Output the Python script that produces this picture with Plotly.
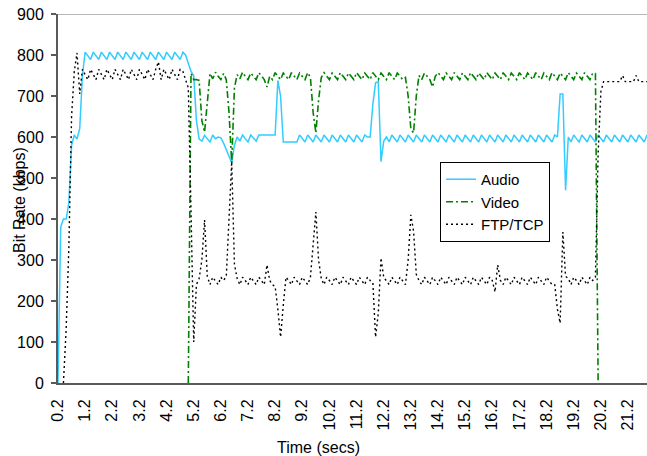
import plotly.graph_objects as go

# Category axis: samples every 0.1 s starting at 0.2 s
time = [round(0.2 + 0.1 * k, 1) for k in range(218)]

tick_vals = [0.2 + k for k in range(22)]
tick_text = ["0.2", "1.2", "2.2", "3.2", "4.2", "5.2", "6.2", "7.2", "8.2", "9.2", "10.2",
             "11.2", "12.2", "13.2", "14.2", "15.2", "16.2", "17.2", "18.2", "19.2", "20.2", "21.2"]

audio = [
    0, 380, 400, 400, 440, 580, 605, 595, 620, 750,
    807, 797, 789, 807, 797, 789, 807, 797, 789, 807,
    797, 789, 807, 797, 789, 807, 797, 789, 807, 797,
    789, 807, 797, 789, 807, 797, 789, 807, 797, 789,
    807, 797, 789, 807, 797, 789, 807, 800, 780, 760,
    750, 640, 595, 590, 604, 596, 588, 605, 596, 600,
    598, 585, 570, 552, 537, 580, 600, 590, 605, 596,
    588, 605, 596, 590, 605, 605, 605, 605, 605, 605,
    605, 738, 700, 588, 588, 588, 588, 588, 588, 605,
    596, 588, 605, 596, 588, 605, 596, 588, 605, 596,
    588, 605, 596, 588, 605, 596, 588, 605, 596, 588,
    605, 596, 588, 605, 600, 600, 680, 732, 735, 540,
    590, 600, 588, 605, 596, 588, 605, 596, 588, 605,
    596, 588, 605, 596, 588, 605, 596, 588, 605, 596,
    588, 605, 596, 588, 605, 596, 588, 605, 596, 588,
    605, 596, 588, 605, 596, 588, 605, 596, 588, 605,
    596, 588, 605, 596, 588, 605, 596, 588, 605, 596,
    588, 605, 596, 588, 605, 596, 588, 605, 596, 588,
    605, 596, 588, 605, 600, 705, 705, 470, 600, 588,
    605, 596, 588, 605, 596, 588, 605, 596, 588, 605,
    596, 588, 605, 596, 588, 605, 596, 588, 605, 596,
    588, 605, 596, 588, 605, 596, 588, 605,
]

video = [None] * 48 + [
    0, 755,
    740, 740, 738, 640, 612, 690, 755, 742, 758, 748,
    740, 755, 740, 660, 537, 720, 752, 742, 758, 748,
    740, 756, 748, 740, 757, 748, 740, 722, 748, 740,
    757, 748, 740, 756, 748, 740, 757, 748, 740, 756,
    748, 740, 757, 745, 660, 610, 690, 745, 757, 748,
    740, 756, 748, 740, 757, 748, 740, 756, 748, 740,
    757, 748, 740, 756, 748, 740, 757, 748, 740, 756,
    748, 740, 757, 748, 740, 756, 748, 740, 745, 700,
    620, 610, 700, 750, 740, 756, 748, 740, 722, 748,
    757, 748, 740, 756, 748, 740, 757, 748, 740, 756,
    748, 740, 757, 748, 740, 756, 748, 740, 757, 748,
    740, 756, 748, 740, 757, 748, 740, 756, 748, 740,
    757, 748, 740, 756, 748, 740, 757, 748, 740, 756,
    748, 740, 757, 748, 740, 756, 748, 740, 757, 748,
    740, 756, 748, 740, 757, 748, 740, 756, 755, 0,
] + [None] * 18

ftp = [
    None, None, 0, 130, 330, 650, 760, 805, 705, 765,
    752, 740, 765, 752, 740, 765, 752, 740, 765, 752,
    740, 765, 752, 740, 765, 752, 740, 765, 752, 740,
    765, 752, 740, 765, 752, 740, 765, 783, 740, 765,
    752, 740, 765, 752, 740, 765, 760, 740, 720, 420,
    100, 240, 255, 300, 398, 260, 240, 258, 250, 240,
    258, 250, 260, 400, 540, 290, 255, 240, 258, 250,
    240, 258, 250, 240, 258, 250, 240, 288, 250, 240,
    235, 180, 112, 190, 258, 250, 240, 258, 250, 240,
    258, 250, 240, 258, 340, 417, 300, 255, 240, 258,
    250, 240, 258, 250, 240, 258, 250, 240, 258, 250,
    240, 258, 250, 240, 258, 250, 245, 112, 170, 305,
    258, 250, 240, 258, 250, 240, 258, 250, 240, 300,
    410, 370, 265, 250, 240, 258, 250, 240, 258, 250,
    240, 258, 250, 240, 258, 250, 240, 258, 250, 240,
    258, 250, 240, 258, 250, 240, 258, 250, 240, 258,
    250, 222, 288, 250, 240, 258, 250, 240, 258, 250,
    240, 258, 250, 240, 258, 250, 240, 258, 250, 240,
    258, 250, 240, 240, 180, 146, 368, 260, 255, 240,
    258, 250, 240, 258, 250, 240, 258, 250, 258, 560,
    710, 735, 735, 735, 735, 735, 735, 735, 750, 735,
    735, 735, 735, 750, 735, 735, 735, 735,
]

FONT = "Liberation Sans, Arial, sans-serif"

fig = go.Figure()
fig.add_trace(go.Scatter(x=time[:len(audio)], y=audio, name="Audio", mode="lines",
                         line=dict(color="#33CCFF", width=1.5), connectgaps=False))
fig.add_trace(go.Scatter(x=time[:len(video)], y=video, name="Video", mode="lines",
                         line=dict(color="#008000", width=1.6, dash="7px,3px,2px,3px"),
                         connectgaps=False))
fig.add_trace(go.Scatter(x=time[:len(ftp)], y=ftp, name="FTP/TCP", mode="lines",
                         line=dict(color="#000000", width=1.4, dash="2px,3px"),
                         connectgaps=False))

# top border gridline at 900
fig.add_shape(type="line", xref="paper", yref="y", x0=0, x1=1, y0=900, y1=900,
              line=dict(color="#A0A0A0", width=1.5), layer="below")

fig.update_layout(
    width=647, height=456,
    margin=dict(l=58, r=0, t=14, b=73, pad=0),
    paper_bgcolor="white", plot_bgcolor="white",
    font=dict(family=FONT, size=16, color="#000000"),
    showlegend=True,
    legend=dict(x=0.6486, y=0.599, xanchor="left", yanchor="top",
                bordercolor="#000000", borderwidth=1, bgcolor="white",
                font=dict(family=FONT, size=15), tracegroupgap=0, itemwidth=30),
    xaxis=dict(range=[0.2, 21.9], tickvals=tick_vals, ticktext=tick_text, tickangle=-90,
               showgrid=False, zeroline=False, showline=True, linecolor="#5A5A5A",
               linewidth=2, ticks="", ticklabelstandoff=8,
               tickfont=dict(family=FONT, size=16)),
    yaxis=dict(range=[0, 900], tickvals=[0, 100, 200, 300, 400, 500, 600, 700, 800, 900],
               showgrid=False, zeroline=False, showline=True, linecolor="#5A5A5A",
               linewidth=2, ticks="outside", ticklen=5, tickwidth=1.5, tickcolor="#5A5A5A",
               ticklabelstandoff=4, tickfont=dict(family=FONT, size=16)),
    annotations=[
        dict(text="Bit Rate (kbps)", xref="paper", yref="paper", x=(19 - 58) / 589,
             y=(383 - 200) / 369, textangle=-90, showarrow=False,
             xanchor="center", yanchor="middle", font=dict(family=FONT, size=16)),
        dict(text="Time (secs)", xref="paper", yref="paper", x=(318 - 58) / 589,
             y=(383 - 447) / 369, showarrow=False, xanchor="center", yanchor="middle",
             font=dict(family=FONT, size=16)),
    ],
)

fig.write_html("out.html")
